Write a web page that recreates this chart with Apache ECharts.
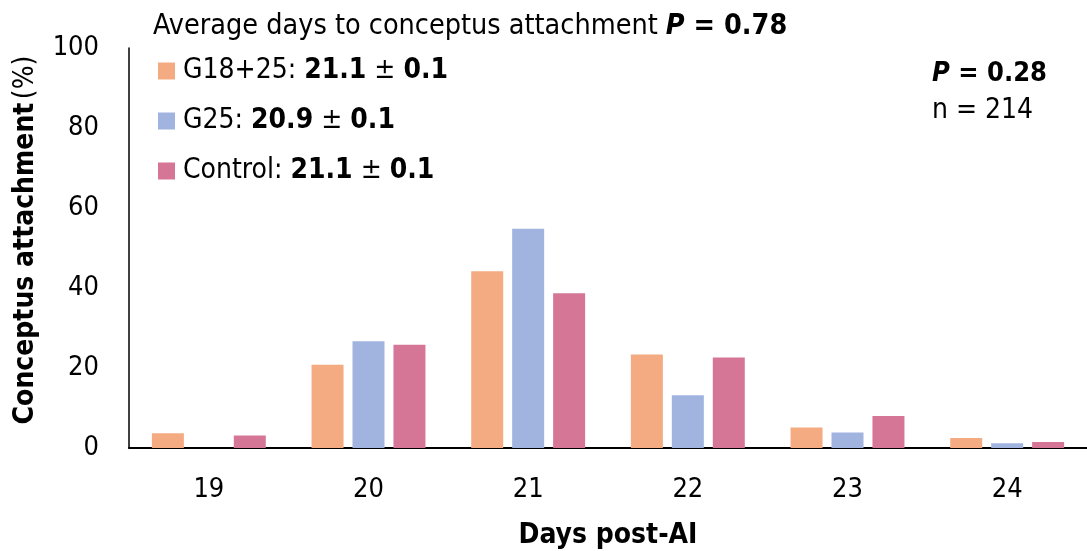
<!DOCTYPE html>
<html>
<head>
<meta charset="utf-8">
<script src="https://cdn.jsdelivr.net/npm/echarts@6/dist/echarts.min.js"></script>
<style>
  html, body { margin: 0; padding: 0; background: #fff; }
  #chart { width: 1087px; height: 551px; }
</style>
</head>
<body>
<div id="chart"></div>
<script>
// Days post-AI on which conceptus attachment was detected
const categories = ['19', '20', '21', '22', '23', '24'];
const groupNames = ['G18+25', 'G25', 'Control'];
const g1825 = [3.7, 20.8, 44.2, 23.4, 5.1, 2.5];
const g25 = [0, 26.7, 54.8, 13.2, 3.9, 1.2];
const control = [3.1, 25.8, 38.7, 22.6, 8.0, 1.5];
// Average day of attachment (mean ± SEM) per group
const meanDays = ['21.1', '20.9', '21.1'];
const semDays = ['0.1', '0.1', '0.1'];
const yTicks = [0, 20, 40, 60, 80, 100];

const FONT = '"DejaVu Sans Condensed", "DejaVu Sans", sans-serif';
const colors = ['#F4AB82', '#A1B3DF', '#D67697'];
const seriesValues = [g1825, g25, control];

const chart = echarts.init(document.getElementById('chart'), null, { renderer: 'canvas' });

const option = {
  animation: false,
  textStyle: { fontFamily: FONT, color: '#000' },
  grid: { left: 129, right: 0, top: 48, bottom: 103, containLabel: false, outerBoundsMode: 'none' },
  xAxis: {
    type: 'category',
    data: categories,
    axisLine: { show: true, lineStyle: { color: '#000', width: 2 } },
    axisTick: { show: false },
    axisLabel: { fontSize: 27, color: '#000', margin: 28, fontFamily: FONT },
    name: 'Days post-AI',
    nameLocation: 'middle',
    nameGap: 74,
    nameTextStyle: { fontSize: 28, fontWeight: 'bold', color: '#000', fontFamily: FONT }
  },
  yAxis: {
    type: 'value',
    min: yTicks[0],
    max: yTicks[yTicks.length - 1],
    interval: 20,
    splitLine: { show: false },
    axisLine: { show: true, lineStyle: { color: '#000', width: 1.5 } },
    axisTick: { show: false },
    axisLabel: { fontSize: 27, color: '#000', margin: 30, fontFamily: FONT },
    name: '{b|Conceptus attachment} {n|(%)}',
    nameLocation: 'middle',
    nameGap: 89,
    nameRotate: 90,
    nameTextStyle: {
      padding: [0, 0, 0, 16],
      rich: {
        b: { fontSize: 28, fontWeight: 'bold', color: '#000', fontFamily: FONT },
        n: { fontSize: 28, color: '#000', fontFamily: FONT }
      }
    }
  },
  legend: {
    orient: 'vertical',
    left: 158,
    top: 57,
    padding: 0,
    itemWidth: 17,
    itemHeight: 17,
    itemGap: 22,
    icon: 'rect',
    data: groupNames,
    formatter: function (name) {
      const i = groupNames.indexOf(name);
      return '{n|' + name + ': }{b|' + meanDays[i] + '}{n| ± }{b|' + semDays[i] + '}';
    },
    textStyle: {
      padding: [0, 0, 0, 3],
      rich: {
        n: { fontSize: 28, color: '#000', fontFamily: FONT },
        b: { fontSize: 28, fontWeight: 'bold', color: '#000', fontFamily: FONT }
      }
    }
  },
  graphic: [
    {
      type: 'text',
      left: 153,
      top: 12,
      style: {
        text: '{n|Average days to conceptus attachment }{p|P}{b| = 0.78}',
        rich: {
          n: { fontSize: 28.5, color: '#000', fontFamily: FONT },
          p: { fontSize: 28.5, fontWeight: 'bold', fontStyle: 'italic', color: '#000', fontFamily: FONT },
          b: { fontSize: 28.5, fontWeight: 'bold', color: '#000', fontFamily: FONT }
        }
      }
    },
    {
      type: 'text',
      left: 932,
      top: 60,
      style: {
        text: '{p|P}{b| = 0.28}\n{n|n = 214}',
        rich: {
          p: { fontSize: 27, fontWeight: 'bold', fontStyle: 'italic', color: '#000', fontFamily: FONT, lineHeight: 37 },
          b: { fontSize: 27, fontWeight: 'bold', color: '#000', fontFamily: FONT, lineHeight: 37 },
          n: { fontSize: 28, color: '#000', fontFamily: FONT, lineHeight: 37 }
        }
      }
    }
  ],
  series: groupNames.map(function (name, i) {
    return {
      name: name,
      type: 'bar',
      data: seriesValues[i],
      barWidth: 32,
      barGap: '28%',
      itemStyle: { color: colors[i] }
    };
  })
};

chart.setOption(option);
</script>
</body>
</html>
